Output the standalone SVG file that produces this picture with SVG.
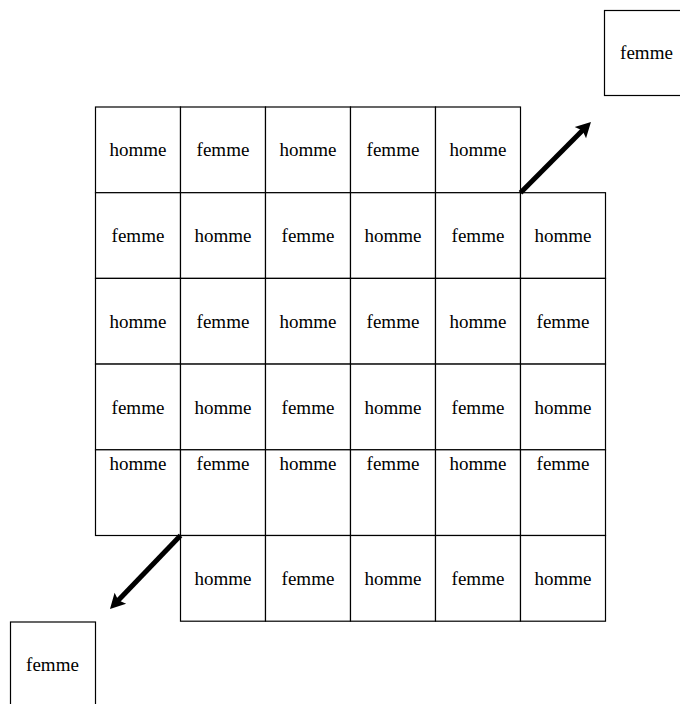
<svg xmlns="http://www.w3.org/2000/svg" width="680" height="704" viewBox="0 0 680 704">
<defs>
<style>
.c{fill:#fff;stroke:#000;stroke-width:1.2}
.a{stroke:#000;stroke-width:5;fill:none}
</style>
<marker id="ah" markerUnits="userSpaceOnUse" markerWidth="20" markerHeight="20" viewBox="0 0 20 20" refX="8" refY="10" orient="auto">
<path d="M3,2 L18,10 L3,18 L6,10 Z" fill="#000"/>
</marker>
</defs>
<rect width="680" height="704" fill="#fff"/>
<g font-family="Liberation Serif, Times New Roman, serif" font-size="19" fill="#000" text-anchor="middle">
<g id="out-tr"><rect class="c" x="604.5" y="10.5" width="85" height="85"/><text x="646.5" y="59">femme</text></g>
<g id="out-bl"><rect class="c" x="10.5" y="622" width="85" height="85"/><text x="52.5" y="671">femme</text></g>
<g id="r0">
<g id="c0-0"><rect class="c" x="95.5" y="107" width="85" height="85.7"/><text x="138" y="156">homme</text></g>
<g id="c0-1"><rect class="c" x="180.5" y="107" width="85" height="85.7"/><text x="223" y="156">femme</text></g>
<g id="c0-2"><rect class="c" x="265.5" y="107" width="85" height="85.7"/><text x="308" y="156">homme</text></g>
<g id="c0-3"><rect class="c" x="350.5" y="107" width="85" height="85.7"/><text x="393" y="156">femme</text></g>
<g id="c0-4"><rect class="c" x="435.5" y="107" width="85" height="85.7"/><text x="478" y="156">homme</text></g>
</g>
<g id="r1">
<g id="c1-0"><rect class="c" x="95.5" y="192.7" width="85" height="85.7"/><text x="138" y="242">femme</text></g>
<g id="c1-1"><rect class="c" x="180.5" y="192.7" width="85" height="85.7"/><text x="223" y="242">homme</text></g>
<g id="c1-2"><rect class="c" x="265.5" y="192.7" width="85" height="85.7"/><text x="308" y="242">femme</text></g>
<g id="c1-3"><rect class="c" x="350.5" y="192.7" width="85" height="85.7"/><text x="393" y="242">homme</text></g>
<g id="c1-4"><rect class="c" x="435.5" y="192.7" width="85" height="85.7"/><text x="478" y="242">femme</text></g>
<g id="c1-5"><rect class="c" x="520.5" y="192.7" width="85" height="85.7"/><text x="563" y="242">homme</text></g>
</g>
<g id="r2">
<g id="c2-0"><rect class="c" x="95.5" y="278.4" width="85" height="85.7"/><text x="138" y="328">homme</text></g>
<g id="c2-1"><rect class="c" x="180.5" y="278.4" width="85" height="85.7"/><text x="223" y="328">femme</text></g>
<g id="c2-2"><rect class="c" x="265.5" y="278.4" width="85" height="85.7"/><text x="308" y="328">homme</text></g>
<g id="c2-3"><rect class="c" x="350.5" y="278.4" width="85" height="85.7"/><text x="393" y="328">femme</text></g>
<g id="c2-4"><rect class="c" x="435.5" y="278.4" width="85" height="85.7"/><text x="478" y="328">homme</text></g>
<g id="c2-5"><rect class="c" x="520.5" y="278.4" width="85" height="85.7"/><text x="563" y="328">femme</text></g>
</g>
<g id="r3">
<g id="c3-0"><rect class="c" x="95.5" y="364.1" width="85" height="85.7"/><text x="138" y="414">femme</text></g>
<g id="c3-1"><rect class="c" x="180.5" y="364.1" width="85" height="85.7"/><text x="223" y="414">homme</text></g>
<g id="c3-2"><rect class="c" x="265.5" y="364.1" width="85" height="85.7"/><text x="308" y="414">femme</text></g>
<g id="c3-3"><rect class="c" x="350.5" y="364.1" width="85" height="85.7"/><text x="393" y="414">homme</text></g>
<g id="c3-4"><rect class="c" x="435.5" y="364.1" width="85" height="85.7"/><text x="478" y="414">femme</text></g>
<g id="c3-5"><rect class="c" x="520.5" y="364.1" width="85" height="85.7"/><text x="563" y="414">homme</text></g>
</g>
<g id="r4">
<g id="c4-0"><rect class="c" x="95.5" y="449.8" width="85" height="85.7"/><text x="138" y="470">homme</text></g>
<g id="c4-1"><rect class="c" x="180.5" y="449.8" width="85" height="85.7"/><text x="223" y="470">femme</text></g>
<g id="c4-2"><rect class="c" x="265.5" y="449.8" width="85" height="85.7"/><text x="308" y="470">homme</text></g>
<g id="c4-3"><rect class="c" x="350.5" y="449.8" width="85" height="85.7"/><text x="393" y="470">femme</text></g>
<g id="c4-4"><rect class="c" x="435.5" y="449.8" width="85" height="85.7"/><text x="478" y="470">homme</text></g>
<g id="c4-5"><rect class="c" x="520.5" y="449.8" width="85" height="85.7"/><text x="563" y="470">femme</text></g>
</g>
<g id="r5">
<g id="c5-1"><rect class="c" x="180.5" y="535.5" width="85" height="85.7"/><text x="223" y="585">homme</text></g>
<g id="c5-2"><rect class="c" x="265.5" y="535.5" width="85" height="85.7"/><text x="308" y="585">femme</text></g>
<g id="c5-3"><rect class="c" x="350.5" y="535.5" width="85" height="85.7"/><text x="393" y="585">homme</text></g>
<g id="c5-4"><rect class="c" x="435.5" y="535.5" width="85" height="85.7"/><text x="478" y="585">femme</text></g>
<g id="c5-5"><rect class="c" x="520.5" y="535.5" width="85" height="85.7"/><text x="563" y="585">homme</text></g>
</g>
</g>
<g id="connectors">
<line class="a" x1="520.5" y1="192.7" x2="583.9" y2="129.1" marker-end="url(#ah)"/>
<line class="a" x1="180.5" y1="535.5" x2="116.9" y2="601.8" marker-end="url(#ah)"/>
</g>
</svg>
